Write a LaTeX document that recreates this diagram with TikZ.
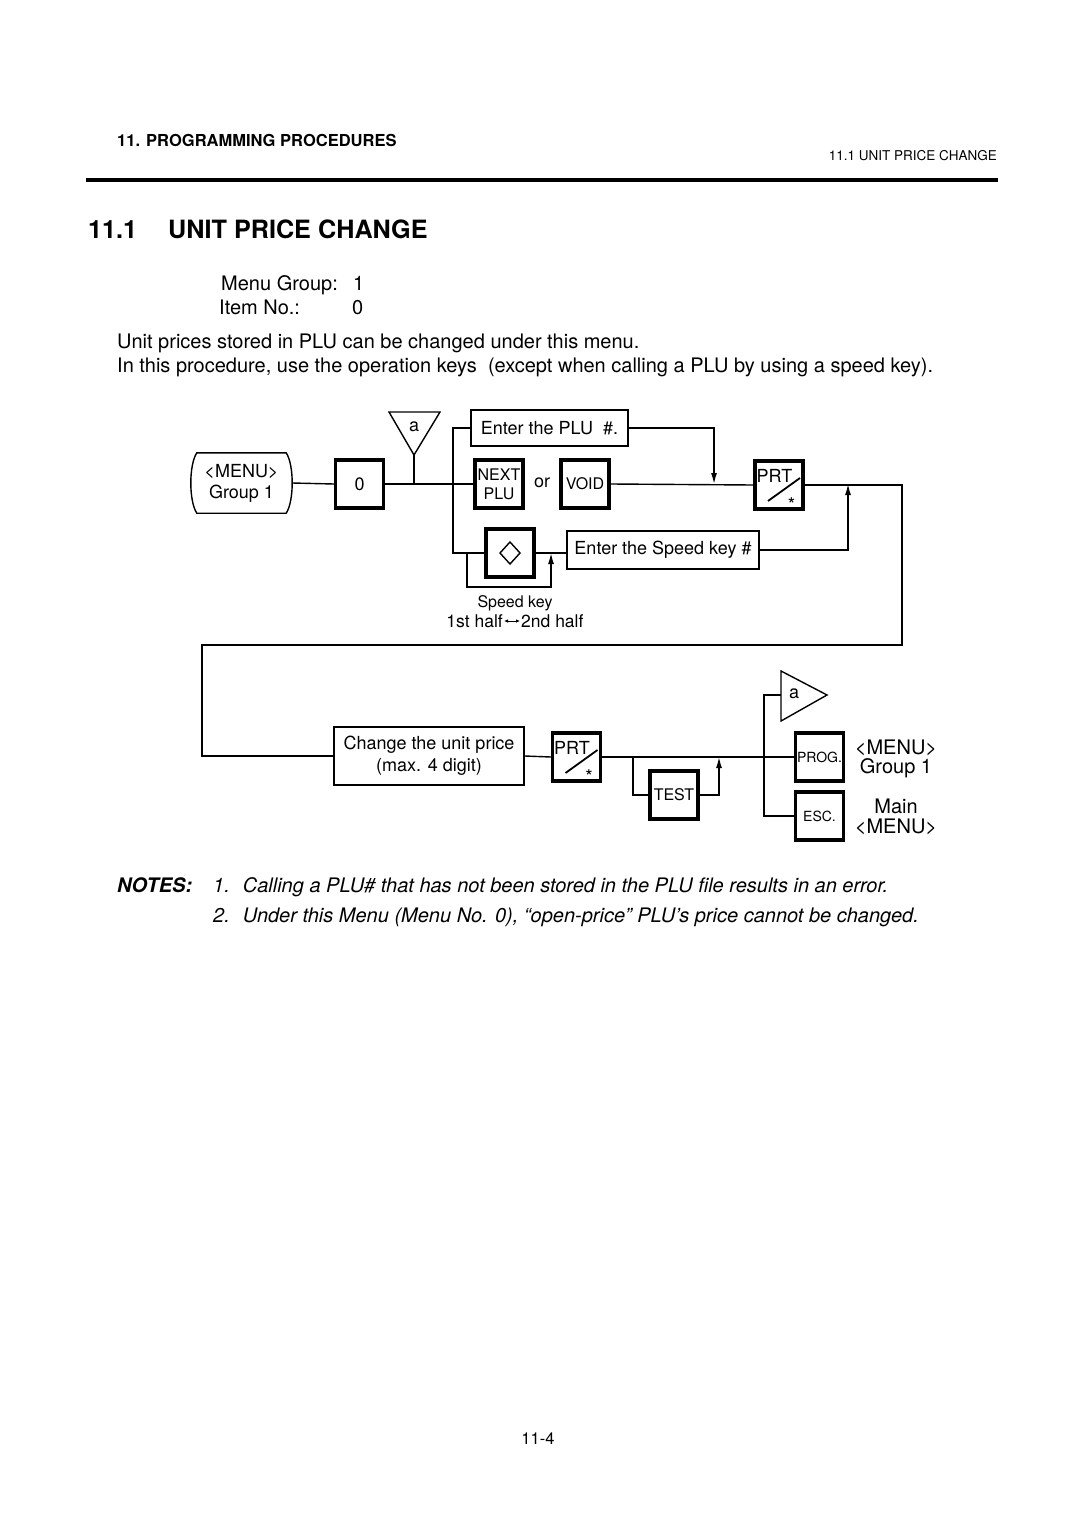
\documentclass[tikz,border=0pt]{standalone}
\usepackage{fontspec}
\setmainfont{TeX Gyre Heros}
\usetikzlibrary{arrows.meta}

\tikzset{
  keybox/.style={draw, line width=3.4pt, minimum width=48pt, minimum height=48pt, inner sep=0pt, align=center, font=\fontsize{16}{19}\selectfont},
  entrybox/.style={draw, line width=1.4pt, inner sep=0pt, align=center, font=\fontsize{18}{22}\selectfont},
  wire/.style={line width=1.4pt},
  wirearrow/.style={line width=1.4pt, -{Latex[length=11pt,width=6pt]}},
  bodytext/.style={anchor=base west, inner sep=0pt, font=\fontsize{20}{23}\selectfont},
  difftext/.style={inner sep=0pt, font=\fontsize{18}{20}\selectfont},
}

\begin{document}
\begin{tikzpicture}[x=1pt,y=-1pt]
  \useasboundingbox[fill=white] (0,0) rectangle (1080,1525);

  \node[anchor=base west, inner sep=0pt, font=\fontsize{16.5}{18}\selectfont\bfseries] (chapter) at (117,147) {11. PROGRAMMING PROCEDURES};
  \node[anchor=base east, inner sep=0pt, font=\fontsize{13.5}{15}\selectfont] (section) at (997,161) {11.1 UNIT PRICE CHANGE};
  \draw[line width=4pt] (86,180) -- (998,180);
  \node[anchor=base west, inner sep=0pt, font=\fontsize{25.2}{28}\selectfont\bfseries] (titlenum) at (88,238) {11.1};
  \node[anchor=base west, inner sep=0pt, font=\fontsize{25.2}{28}\selectfont\bfseries] (title) at (168,238) {UNIT PRICE CHANGE};

  \node[bodytext] (menugroup) at (221,290) {Menu Group:};
  \node[bodytext] (menugroupval) at (353,290) {1};
  \node[bodytext] (itemno) at (219,314) {Item No.:};
  \node[bodytext] (itemnoval) at (352,314) {0};
  \node[bodytext] (intro1) at (117,348) {Unit prices stored in PLU can be changed under this menu.};
  \node[bodytext] (intro2) at (117,372) {In this procedure, use the operation keys~ (except when calling a PLU by using a speed key).};

  \node[inner sep=0pt, minimum width=101pt, minimum height=60pt, align=center, font=\fontsize{18}{21}\selectfont] (menu) at (241.5,483) {<MENU>\\Group 1};
  \draw[wire] ([xshift=6pt]menu.north west) -- ([xshift=-6pt]menu.north east)
    .. controls ([shift={(2,-18)}]menu.east) and ([shift={(2,18)}]menu.east) .. ([xshift=-6pt]menu.south east)
    -- ([xshift=6pt]menu.south west)
    .. controls ([shift={(-2,18)}]menu.west) and ([shift={(-2,-18)}]menu.west) .. cycle;

  \node[keybox, font=\fontsize{18}{20}\selectfont] (zero) at (359.5,484) {0};
  \node[difftext] (triatext) at (414,427) {a};
  \draw[wire] (389,412) -- (440,412) -- (414,455) -- cycle;
  \coordinate (triatip) at (414,455);

  \node[entrybox, minimum width=157pt, minimum height=36pt] (plu) at (549.5,428) {Enter the PLU~ \#.};
  \node[keybox] (next) at (499,484) {NEXT\\PLU};
  \node[difftext] (or) at (542,483) {or};
  \node[keybox] (void) at (585,484) {VOID};
  \node[keybox] (prta) at (779,485) {};
  \node[keybox] (spd) at (510,553) {};
  \node[entrybox, minimum width=192pt, minimum height=38pt] (skey) at (663,550) {Enter the Speed key \#};

  \node[anchor=base west, inner sep=0pt, font=\fontsize{18}{20}\selectfont] at ([shift={(-22.5,-3)}]prta.center) {PRT};
  \draw[line width=1.8pt] ([shift={(-11,16)}]prta.center) -- ([shift={(21,-7)}]prta.center);
  \node[inner sep=0pt, font=\fontsize{19}{19}\selectfont] at ([shift={(12.5,20)}]prta.center) {*};

  \draw[wire] ([shift={(0,-11)}]spd.center) -- ([shift={(10,0)}]spd.center) -- ([shift={(0,11)}]spd.center) -- ([shift={(-10,0)}]spd.center) -- cycle;

  \node[inner sep=0pt, font=\fontsize{16}{18}\selectfont] (spdlabel) at (515,603) {Speed key};
  \node[anchor=east, inner sep=0pt, font=\fontsize{17.5}{19}\selectfont] (halfa) at (503,621) {1st half};
  \node[anchor=west, inner sep=0pt, font=\fontsize{17.5}{19}\selectfont] (halfb) at (521,621) {2nd half};
  \draw[line width=1pt, {Latex[length=4pt,width=3.5pt]}-{Latex[length=4pt,width=3.5pt]}] ([xshift=1pt]halfa.east) -- ([xshift=-1pt]halfb.west);

  \coordinate (bus) at (453,484);
  \coordinate (joinplu) at (714,484);
  \coordinate (joinskey) at (848,484);
  \coordinate (sloopa) at (467,553);
  \coordinate (sloopb) at (551,553);
  \coordinate (loopa) at (902,645);
  \coordinate (loopb) at (202,645);

  \draw[wire] (menu.east) -- (zero.west);
  \draw[wire] (zero.east) -- (next.west);
  \draw[wire] (triatip) -- (triatip |- zero.east);
  \draw[wire] (plu.west) -| (bus) |- (spd.west);
  \draw[wire] (void.east) -- (prta.west);
  \draw[wirearrow] (plu.east) -| (joinplu);
  \draw[wire] (spd.east) -- (spd.east -| skey.west);
  \draw[wirearrow] (sloopa) -- ++(0,34) -| (sloopb);
  \draw[wirearrow] (skey.east) -| (joinskey);

  \node[entrybox, minimum width=190pt, minimum height=58pt] (chg) at (429,756) {Change the unit price\\(max. 4 digit)};
  \node[keybox] (prtb) at (576.5,757) {};
  \node[keybox] (test) at (674,795) {TEST};
  \node[keybox, font=\fontsize{14}{16}\selectfont] (prog) at (819.5,757) {PROG.};
  \node[keybox, font=\fontsize{14}{16}\selectfont] (esc) at (819.5,816) {ESC.};

  \draw[wire] (prta.east) -| (loopa) -- (loopb) |- (chg.west);

  \node[anchor=base west, inner sep=0pt, font=\fontsize{18}{20}\selectfont] at ([shift={(-22.5,-3)}]prtb.center) {PRT};
  \draw[line width=1.8pt] ([shift={(-11,16)}]prtb.center) -- ([shift={(21,-7)}]prtb.center);
  \node[inner sep=0pt, font=\fontsize{19}{19}\selectfont] at ([shift={(12.5,20)}]prtb.center) {*};

  \node[difftext] (tribtext) at (794,694) {a};
  \draw[wire] (781,671) -- (827,695) -- (781,721) -- cycle;
  \coordinate (tribtail) at (781,695);

  \node[align=center, inner sep=0pt, font=\fontsize{20}{19}\selectfont] (progmenu) at (896,759) {<MENU>\\Group 1};
  \node[align=center, inner sep=0pt, font=\fontsize{20}{20}\selectfont] (escmenu) at (896,817) {Main\\<MENU>};

  \coordinate (tloopa) at (633,757);
  \coordinate (tloopb) at (719,757);
  \coordinate (vbus) at (764,757);

  \draw[wire] (chg.east) -- (prtb.west);
  \draw[wire] (prtb.east) -- (prog.west);
  \draw[wire] (tloopa) |- (test.west);
  \draw[wirearrow] (test.east) -| (tloopb);
  \draw[wire] (tribtail) -| (vbus) |- (esc.west);

  \node[anchor=base west, inner sep=0pt, font=\fontsize{20}{23}\selectfont\bfseries\itshape] (notes) at (117,892) {NOTES:};
  \node[anchor=base west, inner sep=0pt, font=\fontsize{20}{23}\selectfont\itshape] (notea) at (213,892) {1.~ Calling a PLU\# that has not been stored in the PLU file results in an error.};
  \node[anchor=base west, inner sep=0pt, font=\fontsize{20}{23}\selectfont\itshape] (noteb) at (213,922) {2.~ Under this Menu (Menu No. 0), “open-price” PLU’s price cannot be changed.};

  \node[anchor=base, inner sep=0pt, font=\fontsize{16.5}{18}\selectfont] (pageno) at (538,1444) {11-4};
\end{tikzpicture}
\end{document}
